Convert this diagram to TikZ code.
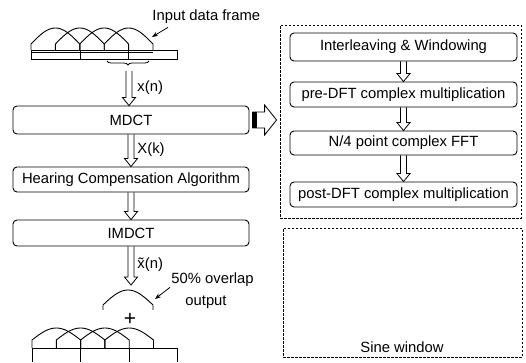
\documentclass[tikz,border=0pt]{standalone}
\usepackage{fontspec}
\setmainfont{Liberation Sans}
\usetikzlibrary{calc,arrows.meta,decorations.pathreplacing}
\begin{document}
\begin{tikzpicture}[x=1pt,y=-1pt,line width=0.9pt,
  every node/.style={font=\fontsize{14.8}{17}\selectfont, inner sep=0pt},
  lbox/.style={draw, rounded corners=4pt, minimum width=236pt},
  rbox/.style={draw, rounded corners=4pt, minimum width=227pt},
  dbox/.style={draw, dash pattern=on 2.5pt off 1.5pt, line width=0.8pt},
  ptr/.style={-{Stealth[length=6pt,width=4.5pt]}, line width=0.8pt},
  hollow/.style={line width=0.8pt, to path={let \p1=(\tikztostart), \p2=(\tikztotarget) in
    (\x1-3pt,\y1) -- (\x1-3pt,\y2+8pt) -- (\x1-6.5pt,\y2+8pt) -- (\x1,\y2)
    -- (\x1+6.5pt,\y2+8pt) -- (\x1+3pt,\y2+8pt) -- (\x1+3pt,\y1)}},
  hollowh/.style={line width=0.8pt, to path={let \p1=(\tikztostart), \p2=(\tikztotarget) in
    (\x1+3pt,\y1+8pt) -- (\x2-15pt,\y1+8pt) -- (\x2-15pt,\y1+15pt) -- (\x2-3pt,\y1)
    -- (\x2-15pt,\y1-15pt) -- (\x2-15pt,\y1-8pt) -- (\x1+3pt,\y1-8pt)}}]
\useasboundingbox (0,0) rectangle (526,362);

% ---- left column boxes
\node[lbox, minimum height=28pt] (mdct) at (131,120) {MDCT};
\node[lbox, minimum height=25pt] (hca) at (131,179.5) {Hearing Compensation Algorithm};
\node[lbox, minimum height=26pt] (imdct) at (131,233) {IMDCT};

% ---- right column
\node[dbox, minimum width=241pt, minimum height=193pt] (fastbox) at (400.5,121.5) {};
\node[rbox, minimum height=28pt] (iw) at (403.5,47) {Interleaving \& Windowing};
\node[rbox, minimum height=25pt] (pre) at (403.5,94.5) {pre-DFT complex multiplication};
\node[rbox, minimum height=24pt] (fft) at (403.5,143) {N/4 point complex FFT};
\node[rbox, minimum height=25pt] (post) at (403.5,194.5) {post-DFT complex multiplication};
\node[dbox, minimum width=239pt, minimum height=129pt] (sine) at (402.5,292.5) {};
\node (sinelbl) at (402,347) {Sine window};

% ---- labels
\node[anchor=west] (inlbl) at (152,17) {Input data frame};
\node[anchor=west] (xn) at (137,88) {x(n)};
\node[anchor=west] (xk) at (137,150) {X(k)};
\node[anchor=west] (xtn) at (137,265) {\~{x}(n)};
\node[anchor=west] (ovl) at (171,280) {50\% overlap};
\node (outl) at (206,302) {output};
\node (plus) at (130,319) {\fontsize{21}{21}\selectfont +};

% ---- input frame windows
\foreach \k in {0,1,2,3} {
  \draw ({31+24.4*\k},50) -- ({31+24.4*\k},44)
     -- plot[domain=0:180,samples=31] ({31+24.4*\k+\x*48.8/180},{44-16*sin(\x)})
     -- ({31+24.4*\k+48.8},50);
}
\draw (31,50) rectangle (177,59);
\draw (31,52.5) -- (153,52.5);
\draw (80,50) -- (80,59);
\draw (128.6,50) -- (128.6,59);
\draw[decorate, decoration={brace, mirror, amplitude=4pt}, line width=0.8pt] (107,61) -- (149,61);
\coordinate (brtip) at (129,71);
\coordinate (w4end) at (152,37);

% ---- overlap output window
\draw (103,310) -- (103,305)
   -- plot[domain=0:180,samples=31] ({103+\x*50/180},{305-15*sin(\x)}) -- (153,310);
\coordinate (ovlend) at (155,299);
\coordinate (ovltop) at (131,285);

% ---- output frame windows
\foreach \k in {0,1,2,3} {
  \draw ({32+24.3*\k},348) -- ({32+24.3*\k},340)
     -- plot[domain=0:180,samples=31] ({32+24.3*\k+\x*48.6/180},{340-12*sin(\x)})
     -- ({32+24.3*\k+48.6},348);
}
\draw (32,348) -- (177,348);
\foreach \xx in {32,80.6,129.2,177} \draw (\xx,348) -- (\xx,362);

% ---- connectors
\draw[hollow] (brtip) to (mdct.north);
\draw[hollow] (mdct.south) to (hca.north);
\draw[hollow] (hca.south) to (imdct.north);
\draw[hollow] (imdct.south) to (ovltop);
\draw[hollow] (iw.south) to (pre.north);
\draw[hollow] (pre.south) to (fft.north);
\draw[hollow] (fft.south) to (post.north);
\draw[hollowh] (mdct.east) to (fastbox.west);
\fill ([xshift=3pt,yshift=-8pt]mdct.east) rectangle ([xshift=8pt,yshift=8pt]mdct.east);
\draw[ptr] ([xshift=16pt,yshift=-3pt]inlbl.south west) -- (w4end);
\draw[ptr] ([xshift=-1pt]ovl.south west) -- (ovlend);
\end{tikzpicture}
\end{document}
